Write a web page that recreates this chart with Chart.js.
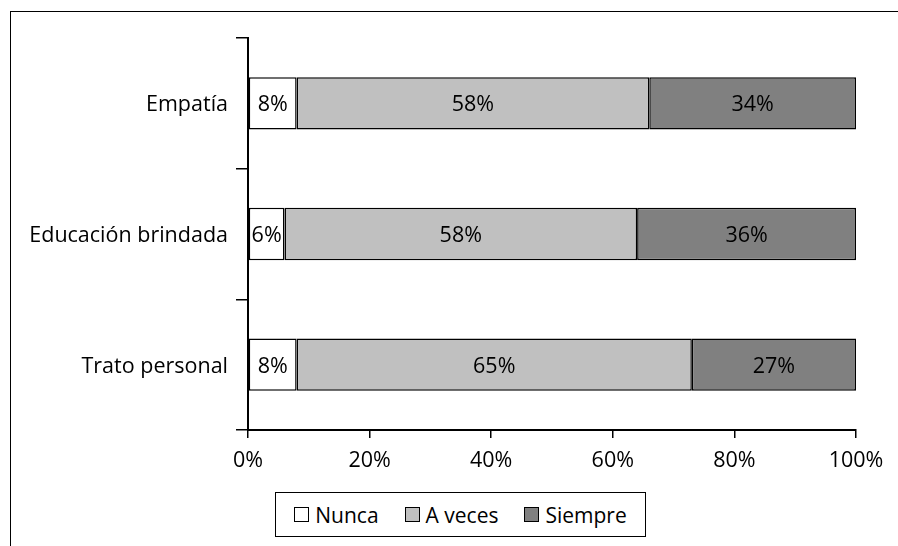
<!DOCTYPE html>
<html>
<head>
<meta charset="utf-8">
<script src="https://cdn.jsdelivr.net/npm/chart.js@4/dist/chart.umd.min.js"></script>
<style>
  html, body { margin: 0; padding: 0; background: #fff; }
  #wrap { position: relative; width: 898px; height: 546px; overflow: hidden; }
  #frame { position: absolute; left: 10px; top: 11px; width: 1000px; height: 1000px; border: 1px solid #000; box-sizing: border-box; }
  #c { position: absolute; left: 0; top: 0; }
  #legend { position: absolute; left: 275px; top: 492px; width: 371px; height: 45px; border: 1px solid #000; box-sizing: border-box;
            display: flex; align-items: center; justify-content: center; font-family: "Open Sans", sans-serif; font-size: 21px; color: #000; gap: 26px; background:#fff; }
  .item { display: flex; align-items: center; }
  .sw { width: 15px; height: 15px; border: 1px solid #000; margin-right: 6px; box-sizing: border-box; }
</style>
</head>
<body>
<div id="wrap">
  <div id="frame"></div>
  <canvas id="c" width="898" height="546"></canvas>
  <div id="legend"></div>
</div>
<script>
const categories = ["Empatía", "Educación brindada", "Trato personal"];
const seriesNames = ["Nunca", "A veces", "Siempre"];
const nunca = [8, 6, 8];
const aVeces = [58, 58, 65];
const siempre = [34, 36, 27];
const xTicks = [0, 20, 40, 60, 80, 100];
const colors = ["#ffffff", "#c0c0c0", "#808080"];

const FONT = '"Open Sans", sans-serif';
const FSIZE = 21.5;

const labelPlugin = {
  id: 'barLabels',
  afterDatasetsDraw(chart) {
    const ctx = chart.ctx;
    ctx.save();
    ctx.font = FSIZE + 'px ' + FONT;
    ctx.fillStyle = '#000';
    ctx.textAlign = 'center';
    ctx.textBaseline = 'middle';
    chart.data.datasets.forEach((ds, i) => {
      const meta = chart.getDatasetMeta(i);
      meta.data.forEach((el, j) => {
        const cx = (el.x + el.base) / 2;
        ctx.fillText(ds.data[j] + '%', cx, el.y + 2);
      });
    });
    ctx.restore();
  }
};

const dataArrays = [nunca, aVeces, siempre];
new Chart(document.getElementById('c'), {
  type: 'bar',
  data: {
    labels: categories,
    datasets: seriesNames.map((n, i) => ({
      label: n,
      data: dataArrays[i],
      backgroundColor: colors[i],
      borderColor: '#000',
      borderWidth: 1.5,
      borderSkipped: false,
      barPercentage: 0.4,
      categoryPercentage: 1.0
    }))
  },
  options: {
    indexAxis: 'y',
    responsive: false,
    animation: false,
    devicePixelRatio: 1,
    layout: { padding: { left: 0, right: 42, top: 38, bottom: 0 } },
    plugins: { legend: { display: false }, tooltip: { enabled: false } },
    scales: {
      x: {
        stacked: true,
        min: 0, max: 100,
        afterBuildTicks(scale) { scale.ticks = xTicks.map(v => ({ value: v })); },
        afterFit(scale) { scale.height = 116; },
        border: { display: true, color: '#000', width: 2 },
        grid: { drawOnChartArea: false, drawTicks: true, tickLength: 8, color: '#000', lineWidth: 1.5 },
        ticks: { font: { family: FONT, size: FSIZE }, color: '#000', padding: 10, maxRotation: 0, callback: v => v + '%' }
      },
      y: {
        stacked: true,
        afterFit(scale) { scale.width = 248; },
        border: { display: true, color: '#000', width: 2 },
        grid: { offset: true, drawOnChartArea: false, drawTicks: true, tickLength: 12, color: '#000', lineWidth: 1.5 },
        ticks: { font: { family: FONT, size: FSIZE }, color: '#000', padding: 8, labelOffset: 2 }
      }
    }
  },
  plugins: [labelPlugin]
});

const lg = document.getElementById('legend');
seriesNames.forEach((n, i) => {
  const it = document.createElement('div');
  it.className = 'item';
  const sw = document.createElement('span');
  sw.className = 'sw';
  sw.style.background = colors[i];
  const t = document.createElement('span');
  t.textContent = n;
  it.appendChild(sw); it.appendChild(t);
  lg.appendChild(it);
});
</script>
</body>
</html>
